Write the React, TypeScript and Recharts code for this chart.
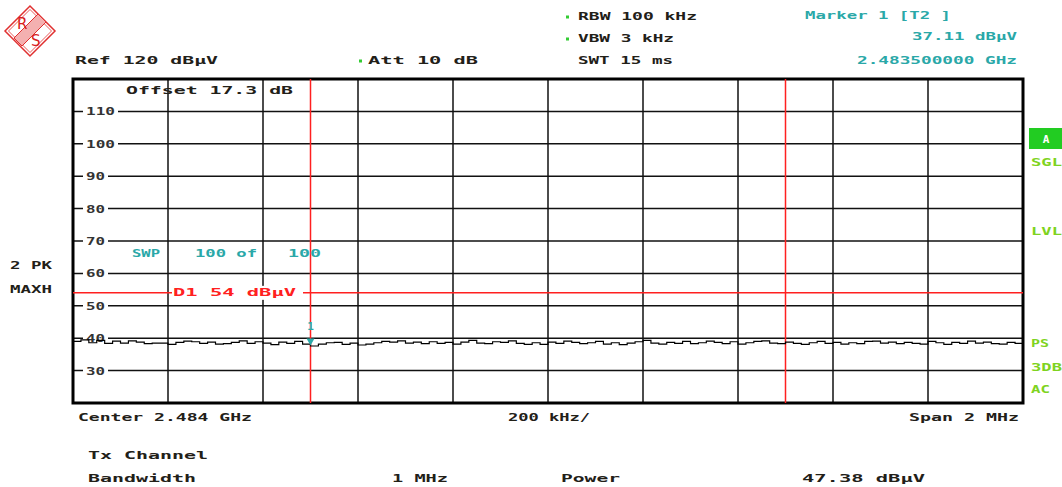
import React from 'react';
import { LineChart, Line, XAxis, YAxis, CartesianGrid, ReferenceLine, ReferenceArea, ReferenceDot } from 'recharts';

const START_MHZ = 2483.0;
const STOP_MHZ = 2485.0;

// Max-hold trace levels (dBµV), one per sweep bin across the 2 MHz span
const traceLevels = [
  39.0, 39.5, 38.6, 39.3, 38.4, 39.1, 38.5, 39.2, 38.8, 38.3,
  38.5, 38.5, 38.1, 38.7, 39.1, 38.9, 38.4, 38.8, 38.2, 38.3,
  38.7, 39.2, 38.4, 38.9, 38.5, 38.0, 38.8, 38.4, 39.0, 38.2,
  37.6, 38.2, 38.6, 38.7, 38.1, 38.5, 37.9, 38.2, 38.6, 39.0,
  38.8,
  39.2, 38.5, 38.8, 38.3, 38.9, 38.4, 38.7, 38.2, 38.8, 39.3,
  38.5, 38.3, 38.9, 38.7, 39.2, 38.4, 38.1, 38.6, 38.1, 38.8,
  38.4, 39.1, 38.7, 38.3, 38.6, 39.0, 38.2, 38.6, 38.0, 38.5,
  38.9, 39.3, 38.5, 38.2, 38.7, 38.4, 39.0, 38.3, 38.6, 39.1,
  38.7, 38.3, 38.9, 38.2, 38.6, 39.0, 39.2, 38.5, 38.3, 38.8,
  38.4, 38.1, 38.6, 39.0, 38.4, 38.7, 38.2, 38.6, 38.3, 39.0,
  39.1, 38.5, 38.8, 38.3, 38.7, 38.4, 38.2, 39.0, 38.6, 38.1,
  38.7, 38.4, 39.1, 38.5, 38.8, 38.3, 38.2, 38.7, 38.4, 38.6,
];

const freqTicks = [2483.0, 2483.2, 2483.4, 2483.6, 2483.8, 2484.0, 2484.2, 2484.4, 2484.6, 2484.8, 2485.0];
const levelTicks = [20, 30, 40, 50, 60, 70, 80, 90, 100, 110, 120];
const levelLabels = [30, 40, 50, 60, 70, 80, 90, 100, 110];
const channelEdges = [2483.5, 2484.5];
const displayLine = 54;
const markerFreq = 2483.5;
const markerLevel = 37.11;

const data = traceLevels.map((v, i) => ({
  f: START_MHZ + (i * (STOP_MHZ - START_MHZ)) / (traceLevels.length - 1),
  v,
}));

const FONT = "'DejaVu Sans Mono', 'Liberation Mono', monospace";
const DARK = '#222018';
const TEAL = '#2aa8a8';
const RED = '#ff2020';
const GREEN = '#7ed321';

function T({ x, x2, cy, fill = DARK, children }: any) {
  return (
    <text
      x={x}
      y={cy + 4}
      textLength={x2 - x}
      lengthAdjust="spacingAndGlyphs"
      fontFamily={FONT}
      fontSize={11}
      fontWeight="bold"
      fill={fill}
    >
      {children}
    </text>
  );
}

function LevelLabel(props: any) {
  const vb = props.viewBox || {};
  const label = String(props.value);
  const x = (vb.x ?? 0) + 10;
  const y = vb.y ?? 0;
  const w = label.length * 10 - 1;
  return (
    <g>
      <rect x={x} y={y - 6} width={w + 6} height={12} fill="#fff" />
      <text
        x={x + 3}
        y={y + 4}
        textLength={w}
        lengthAdjust="spacingAndGlyphs"
        fontFamily={FONT}
        fontSize={11}
        fontWeight="bold"
        fill="#333"
      >
        {label}
      </text>
    </g>
  );
}

function D1Label(props: any) {
  const vb = props.viewBox || {};
  const x = (vb.x ?? 0) + 99;
  const y = vb.y ?? 0;
  return (
    <g>
      <rect x={x} y={y - 7} width={131} height={14} fill="#fff" />
      <text
        x={x + 1}
        y={y + 3}
        textLength={123}
        lengthAdjust="spacingAndGlyphs"
        fontFamily={FONT}
        fontSize={11}
        fontWeight="bold"
        fill={RED}
      >
        D1 54 dBµV
      </text>
    </g>
  );
}

function MarkerShape(props: any) {
  const { cx, cy } = props;
  return (
    <g>
      <polygon points={`${cx - 4},${cy - 9} ${cx + 4},${cy - 9} ${cx},${cy - 2}`} fill={TEAL} />
      <text
        x={cx}
        y={cy - 18}
        textAnchor="middle"
        fontFamily={FONT}
        fontSize={11}
        fontWeight="bold"
        fill={TEAL}
      >
        1
      </text>
    </g>
  );
}

function Logo() {
  return (
    <g>
      <polygon points="30,6 55,31 30,56 5,31" fill="none" stroke="#e03030" strokeWidth={1.5} />
      <polygon points="30,9.5 51.5,31 30,52.5 8.5,31" fill="none" stroke="#e03030" strokeWidth={0.8} />
      <polygon points="38,14 46,22 22,46 14,38" fill="#f4b0b0" stroke="#e03030" strokeWidth={1} />
      <text x={17} y={29} fontFamily="'DejaVu Sans', sans-serif" fontSize={15} fill="#d82020">R</text>
      <text x={31} y={46} fontFamily="'DejaVu Sans', sans-serif" fontSize={15} fill="#d82020">S</text>
    </g>
  );
}

function GreenDot({ x, cy }: any) {
  return <rect x={x} y={cy - 1.5} width={3} height={3} fill="#3c3" />;
}

export default function App() {
  return (
    <div style={{ position: 'relative', width: 1062, height: 487, background: '#fff' }}>
      <style>{'body{margin:0}'}</style>
      <LineChart
        width={1062}
        height={487}
        data={data}
        margin={{ top: 79, left: 73, right: 39, bottom: 84 }}
      >
        <XAxis dataKey="f" type="number" domain={[START_MHZ, STOP_MHZ]} ticks={freqTicks} hide />
        <YAxis type="number" domain={[20, 120]} ticks={levelTicks} hide />
        <CartesianGrid stroke="#111" strokeWidth={1.5} />
        {levelLabels.map((lv) => (
          <ReferenceLine
            key={`lv${lv}`}
            y={lv}
            stroke="none"
            label={<LevelLabel value={lv} />}
          />
        ))}
        <ReferenceLine y={displayLine} stroke={RED} strokeWidth={1.5} label={<D1Label />} />
        {channelEdges.map((f) => (
          <ReferenceLine key={f} x={f} stroke={RED} strokeWidth={1.5} />
        ))}
        <Line
          type="stepAfter"
          dataKey="v"
          stroke="#000"
          strokeWidth={1.2}
          dot={false}
          isAnimationActive={false}
        />
        <ReferenceDot x={markerFreq} y={markerLevel} r={4} shape={<MarkerShape />} />
        <ReferenceArea x1={START_MHZ} x2={STOP_MHZ} y1={20} y2={120} fill="none" stroke="#000" strokeWidth={3} />
      </LineChart>
      <svg
        width={1062}
        height={487}
        style={{ position: 'absolute', left: 0, top: 0, pointerEvents: 'none' }}
      >
        <Logo />
        <T x={75} x2={218} cy={60}>Ref   120 dBµV</T>
        <GreenDot x={359} cy={61} />
        <T x={368} x2={478} cy={60}>Att   10 dB</T>
        <GreenDot x={566} cy={17} />
        <T x={578} x2={697} cy={16}>RBW 100 kHz</T>
        <GreenDot x={566} cy={39} />
        <T x={578} x2={674} cy={38}>VBW 3 kHz</T>
        <T x={578} x2={673} cy={60}>SWT 15 ms</T>
        <T x={805} x2={951} cy={15} fill={TEAL}>Marker 1 [T2 ]</T>
        <T x={912} x2={1017} cy={36} fill={TEAL}>37.11 dBµV</T>
        <T x={857} x2={1017} cy={60} fill={TEAL}>2.483500000 GHz</T>
        <T x={126} x2={293} cy={90}>Offset   17.3 dB</T>
        <T x={132} x2={160} cy={253} fill={TEAL}>SWP</T>
        <T x={195} x2={257} cy={253} fill={TEAL}>100 of</T>
        <T x={288} x2={321} cy={253} fill={TEAL}>100</T>
        <T x={10} x2={52} cy={265}>2 PK</T>
        <T x={10} x2={52} cy={289}>MAXH</T>
        <rect x={1029} y={128} width={33} height={21} fill="#22cc22" />
        <text x={1046} y={143} textAnchor="middle" fontFamily={FONT} fontSize={11} fontWeight="bold" fill="#fff">A</text>
        <T x={1031} x2={1062} cy={162} fill={GREEN}>SGL</T>
        <T x={1031} x2={1062} cy={231} fill={GREEN}>LVL</T>
        <T x={1031} x2={1049} cy={343} fill={GREEN}>PS</T>
        <T x={1031} x2={1062} cy={367} fill={GREEN}>3DB</T>
        <T x={1031} x2={1050} cy={389} fill={GREEN}>AC</T>
        <T x={78} x2={252} cy={417}>Center 2.484 GHz</T>
        <T x={508} x2={590} cy={417}>200 kHz/</T>
        <T x={909} x2={1019} cy={417}>Span  2 MHz</T>
        <T x={88} x2={208} cy={455}>Tx Channel</T>
        <T x={88} x2={196} cy={478}>Bandwidth</T>
        <T x={392} x2={448} cy={478}>1 MHz</T>
        <T x={561} x2={620} cy={478}>Power</T>
        <T x={802} x2={925} cy={478}>47.38 dBµV</T>
      </svg>
    </div>
  );
}
